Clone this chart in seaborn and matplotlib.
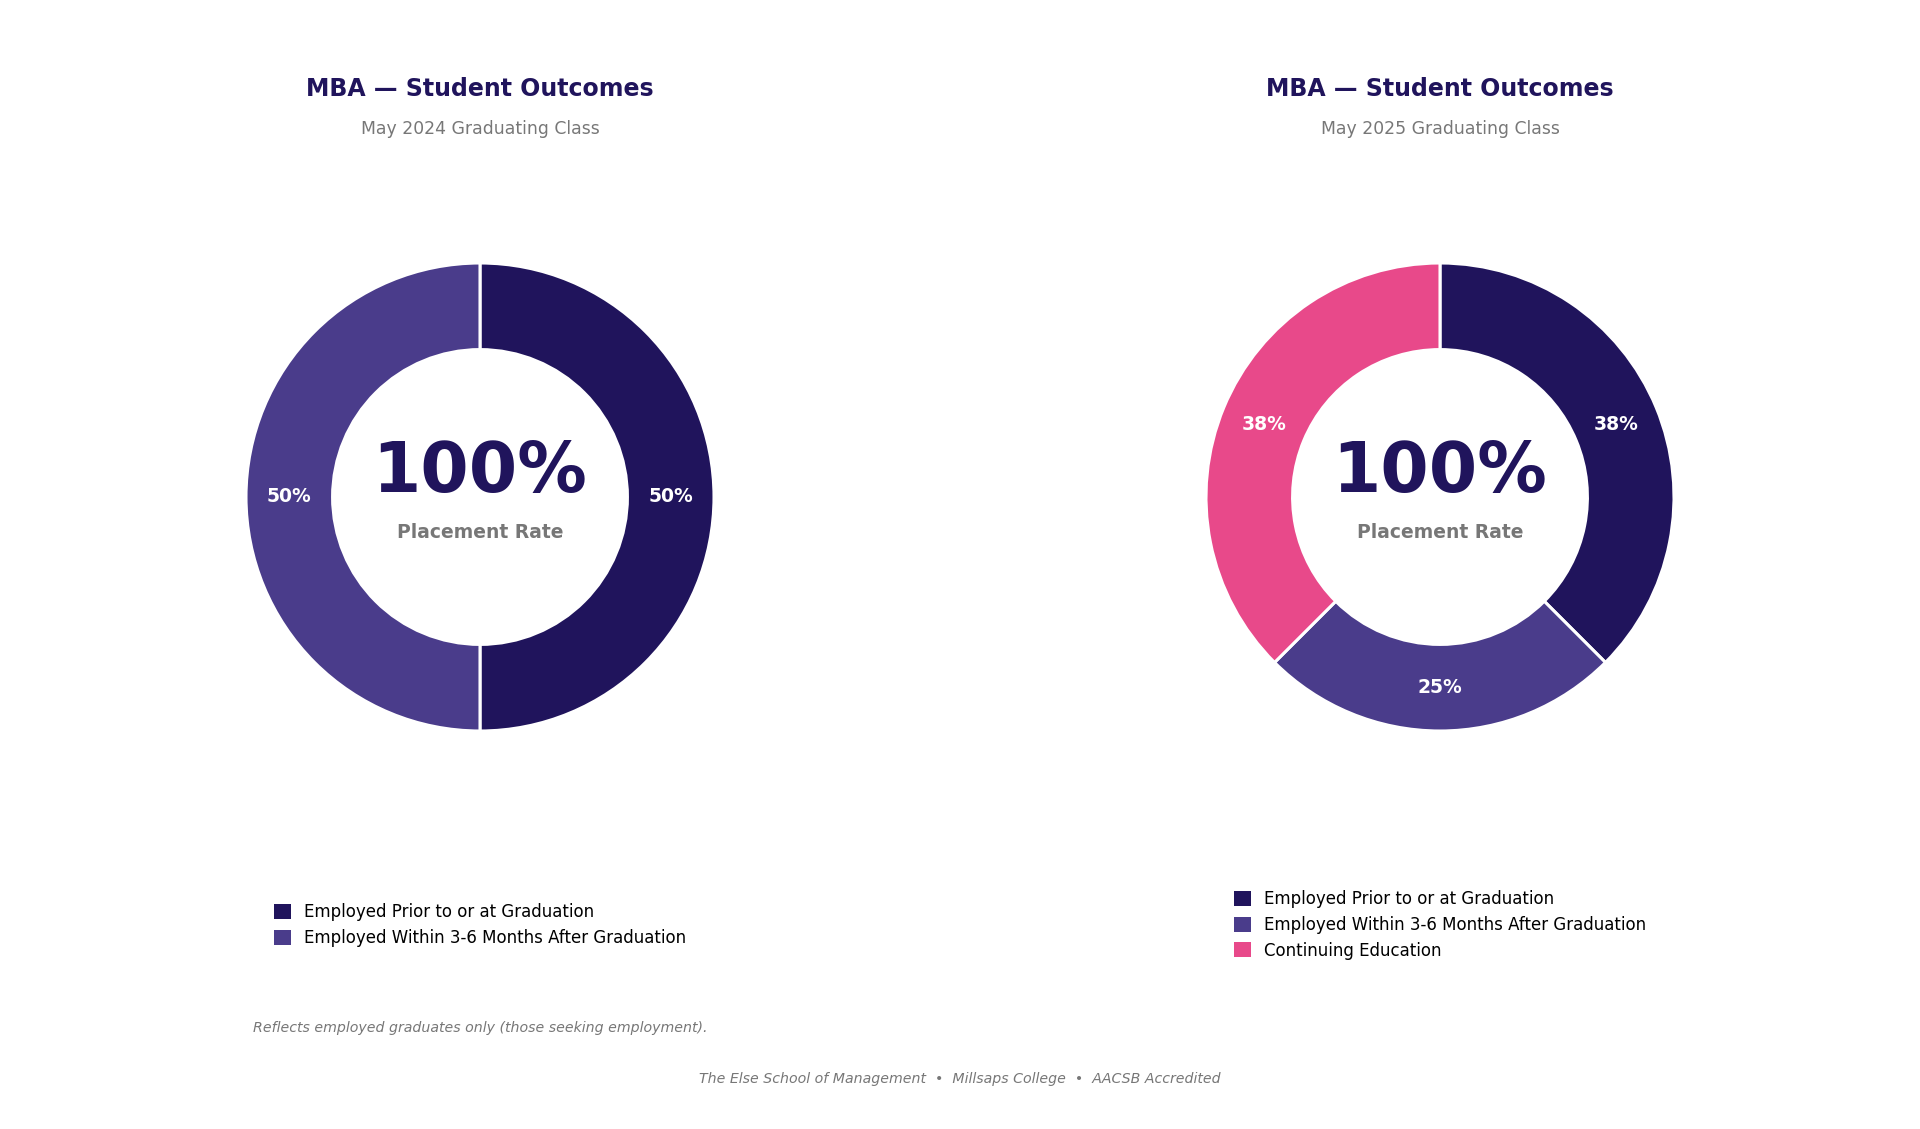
import matplotlib
matplotlib.use("Agg")
import matplotlib.pyplot as plt
import seaborn as sns

sns.set_theme(style="white")
plt.rcParams['font.family'] = ['DejaVu Sans']

# ---- data ----
categories = ["Employed Prior to or at Graduation",
              "Employed Within 3-6 Months After Graduation",
              "Continuing Education"]
colors = ["#20145c", "#4a3c8b", "#e8498a"]
values_2024 = [50, 50]
values_2025 = [37.5, 25, 37.5]
titles = ["MBA — Student Outcomes", "MBA — Student Outcomes"]
subtitles = ["May 2024 Graduating Class", "May 2025 Graduating Class"]
center_value = ["100%", "100%"]
center_label = "Placement Rate"
footnote = "Reflects employed graduates only (those seeking employment)."
footer = "The Else School of Management  •  Millsaps College  •  AACSB Accredited"

W, H = 1920, 1129
fig = plt.figure(figsize=(W / 100, H / 100), dpi=100)
fig.patch.set_facecolor("white")

R_PX = 234
LIM = 1.1
size_px = 2 * R_PX * LIM


def make_ax(cx, cy):
    return fig.add_axes([(cx - size_px / 2) / W, (H - cy - size_px / 2) / H,
                         size_px / W, size_px / H])


datasets = [values_2024, values_2025]
centers = [(480, 497), (1440, 497)]
legend_y = [925, 925]

for i, (vals, (cx, cy)) in enumerate(zip(datasets, centers)):
    ax = make_ax(cx, cy)
    n = len(vals)
    wedges, texts, autotexts = ax.pie(
        vals, colors=colors[:n], startangle=90, counterclock=False,
        radius=1.0, autopct=lambda p: f"{p:.0f}%", pctdistance=0.815,
        wedgeprops=dict(width=0.37, edgecolor="white", linewidth=2.2),
        textprops=dict(color="white", fontsize=13.5, fontweight="bold"))
    ax.set_xlim(-LIM, LIM)
    ax.set_ylim(-LIM, LIM)
    ax.set_aspect("equal")
    ax.axis("off")
    ax.text(0, 0.104, center_value[i], ha="center", va="center",
            fontsize=50, fontweight="bold", color="#20145c")
    ax.text(0, -0.15, center_label, ha="center", va="center",
            fontsize=13.5, fontweight="bold", color="#777777")

    fig.text(cx / W, 1 - 89 / H, titles[i], ha="center", va="center",
             fontsize=17, fontweight="bold", color="#20145c")
    fig.text(cx / W, 1 - 129 / H, subtitles[i], ha="center", va="center",
             fontsize=12.4, color="#777777")

    handles = wedges
    leg = fig.legend(handles, categories[:n], loc="center",
                     bbox_to_anchor=(cx / W, 1 - legend_y[i] / H),
                     frameon=False, fontsize=12, handlelength=1.0,
                     handleheight=1.0, handletextpad=0.8, labelspacing=0.45,
                     labelcolor="black")
    for h in leg.legend_handles:
        h.set_edgecolor("none")

fig.text(480 / W, 1 - 1028 / H, footnote, ha="center", va="center",
         fontsize=10.2, style="italic", color="#777777")
fig.text(960 / W, 1 - 1079 / H, footer, ha="center", va="center",
         fontsize=10.2, style="italic", color="#777777")

fig.savefig("out.png", dpi=100, facecolor="white")
